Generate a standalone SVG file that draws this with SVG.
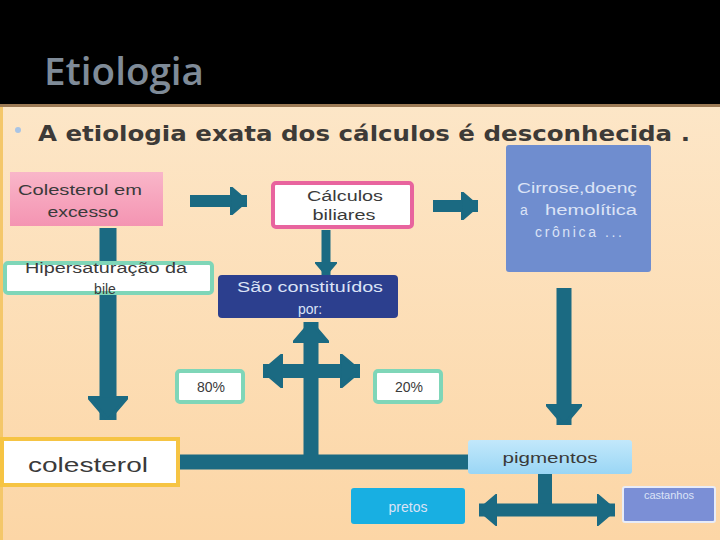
<svg xmlns="http://www.w3.org/2000/svg" width="720" height="540" viewBox="0 0 720 540">
<defs>
<linearGradient id="bg" x1="0" y1="0" x2="0" y2="1">
<stop offset="0" stop-color="#fdeacf"/>
<stop offset="1" stop-color="#fcd6a6"/>
</linearGradient>
<linearGradient id="pink" x1="0" y1="0" x2="0" y2="1">
<stop offset="0" stop-color="#f9b6c9"/>
<stop offset="1" stop-color="#f494b2"/>
</linearGradient>
<linearGradient id="lblue" x1="0" y1="0" x2="0" y2="1">
<stop offset="0" stop-color="#c2e8fb"/>
<stop offset="1" stop-color="#9ad6f5"/>
</linearGradient>
<marker id="ah" viewBox="0 0 10 10" preserveAspectRatio="none" refX="10" refY="5" markerWidth="1.4" markerHeight="2.4" orient="auto-start-reverse" markerUnits="strokeWidth">
<path d="M0,0 L10,5 L0,10 Z" fill="#1b6a82" stroke="#1b6a82" stroke-width="1" stroke-linejoin="round"/>
</marker>
<style>
.t{font-family:"Liberation Sans",Arial,sans-serif;fill:#3a3a3a;text-anchor:middle}
.w{font-family:"Liberation Sans",Arial,sans-serif;fill:#dbe3f6;text-anchor:middle}
.c{fill:none;stroke:#1b6a82;stroke-linecap:butt}
</style>
</defs>
<rect width="720" height="540" fill="url(#bg)"/>
<rect x="0" y="105" width="3" height="435" fill="#f4c76a"/>
<rect width="720" height="105" fill="#000"/>
<rect x="0" y="104" width="720" height="3" fill="#9c7a55"/>
<text x="44" y="85" font-family="'Open Sans','DejaVu Sans',sans-serif" font-size="38" font-weight="600" fill="#7f8b98" textLength="160" lengthAdjust="spacingAndGlyphs">Etiologia</text>
<circle cx="18" cy="130" r="3" fill="#a9c4e4"/>
<text x="38" y="141" font-family="'DejaVu Sans',sans-serif" font-size="22" font-weight="bold" fill="#3d3a37" textLength="652" lengthAdjust="spacingAndGlyphs">A etiologia exata dos cálculos é desconhecida .</text>

<g id="connectors">
<line class="c" x1="190" y1="201" x2="247" y2="201" stroke-width="12" marker-end="url(#ah)"/>
<line class="c" x1="433" y1="206" x2="478" y2="206" stroke-width="12" marker-end="url(#ah)"/>
<line class="c" x1="326" y1="230" x2="326" y2="275" stroke-width="9" marker-end="url(#ah)"/>
<line class="c" x1="108" y1="228" x2="108" y2="420" stroke-width="17" marker-end="url(#ah)"/>
<line class="c" x1="564" y1="288" x2="564" y2="425" stroke-width="15" marker-end="url(#ah)"/>
<line class="c" x1="180" y1="462" x2="470" y2="462" stroke-width="15"/>
<line class="c" x1="311" y1="462" x2="311" y2="322" stroke-width="15" marker-end="url(#ah)"/>
<line class="c" x1="263" y1="371" x2="360" y2="371" stroke-width="14" marker-start="url(#ah)" marker-end="url(#ah)"/>
<line class="c" x1="545" y1="474" x2="545" y2="510" stroke-width="14"/>
<line class="c" x1="479" y1="510" x2="615" y2="510" stroke-width="13" marker-start="url(#ah)" marker-end="url(#ah)"/>
</g>

<g id="n-colesterol-excesso">
<rect x="10" y="172" width="153" height="54" fill="url(#pink)"/>
<text class="t" x="80" y="195" font-size="14" textLength="124" lengthAdjust="spacingAndGlyphs">Colesterol em</text>
<text class="t" x="83" y="217" font-size="14" textLength="71" lengthAdjust="spacingAndGlyphs">excesso</text>
</g>
<g id="n-calculos">
<rect x="273" y="183" width="139" height="44" rx="3" fill="#fff" stroke="#e8649e" stroke-width="4"/>
<text class="t" x="345" y="201" font-size="14" textLength="76" lengthAdjust="spacingAndGlyphs">Cálculos</text>
<text class="t" x="344" y="220" font-size="14" textLength="63" lengthAdjust="spacingAndGlyphs">biliares</text>
</g>
<g id="n-cirrose">
<rect x="506" y="145" width="145" height="127" rx="3" fill="#6f8dcf"/>
<text class="w" x="577" y="193" font-size="14" textLength="120" lengthAdjust="spacingAndGlyphs">Cirrose,doenç</text>
<text class="w" x="524" y="215" font-size="14">a</text>
<text class="w" x="591" y="215" font-size="14" textLength="92" lengthAdjust="spacingAndGlyphs">hemolítica</text>
<text font-family="'Liberation Sans',Arial,sans-serif" fill="#dbe3f6" x="535" y="237" font-size="14" textLength="87" lengthAdjust="spacing">crônica ...</text>
</g>
<g id="n-hipersaturacao">
<rect x="5" y="263" width="207" height="30" rx="3" fill="#fff" stroke="#7fd6b8" stroke-width="4"/>
<text class="t" x="106" y="273" font-size="14" textLength="162" lengthAdjust="spacingAndGlyphs">Hipersaturação da</text>
<text class="t" x="105" y="294" font-size="14">bile</text>
</g>
<g id="n-constituidos">
<rect x="218" y="275" width="180" height="43" rx="4" fill="#2c3f8e"/>
<text class="w" x="310" y="292" font-size="14" textLength="146" lengthAdjust="spacingAndGlyphs">São constituídos</text>
<text class="w" x="310" y="314" font-size="14">por:</text>
</g>
<g id="n-80">
<rect x="177" y="371" width="66" height="31" rx="3" fill="#fff" stroke="#7fd6b8" stroke-width="4"/>
<text class="t" x="211" y="392" font-size="14">80%</text>
</g>
<g id="n-20">
<rect x="375" y="371" width="66" height="31" rx="3" fill="#fff" stroke="#7fd6b8" stroke-width="4"/>
<text class="t" x="409" y="392" font-size="14">20%</text>
</g>
<g id="n-colesterol">
<rect x="2" y="439" width="176" height="46" fill="#fff" stroke="#f6c443" stroke-width="4"/>
<text class="t" x="88" y="472" font-size="21" textLength="120" lengthAdjust="spacingAndGlyphs">colesterol</text>
</g>
<g id="n-pigmentos">
<rect x="468" y="440" width="164" height="34" rx="3" fill="url(#lblue)"/>
<text class="t" x="550" y="463" font-size="15" textLength="95" lengthAdjust="spacingAndGlyphs">pigmentos</text>
</g>
<g id="n-pretos">
<rect x="351" y="488" width="114" height="36" rx="3" fill="#18afe2"/>
<text class="w" x="408" y="512" font-size="14">pretos</text>
</g>
<g id="n-castanhos">
<rect x="623" y="487" width="92" height="35" rx="2" fill="#7b8fd6" stroke="#e8ecf8" stroke-width="2"/>
<text class="w" x="669" y="499" font-size="11">castanhos</text>
</g>
</svg>
